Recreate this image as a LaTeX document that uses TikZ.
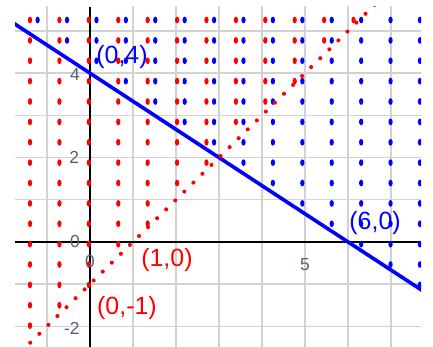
\documentclass[tikz,border=0pt]{standalone}
\usepackage{fontspec}
\setmainfont{Liberation Sans}
\definecolor{axisgray}{RGB}{85,95,115}
\definecolor{gridgray}{RGB}{210,210,210}

\begin{document}
\begin{tikzpicture}[x=1cm, y=0.981cm,
    tick/.style={font=\fontsize{11.5}{12}\selectfont, text=axisgray, inner sep=0pt},
    pointlabel/.style={font=\fontsize{16.5}{17}\selectfont, inner sep=0pt},
    gridline/.style={draw=gridgray, line width=1pt}]
  \useasboundingbox (-2.093,-2.488) rectangle (7.977,5.735);
  \begin{scope}
    \clip (-1.744,-2.488) rectangle (7.698,5.569);

    % grid
    \foreach \gx in {-1,1,2,3,4,5,6,7}
      \draw[gridline] (\gx,-3) -- (\gx,6);
    \foreach \gy in {-2,-1,1,2,3,4,5}
      \draw[gridline] (-2,\gy) -- (8,\gy);

    % axes
    \coordinate (xl) at (-1.744,0);
    \coordinate (xr) at (7.698,0);
    \coordinate (yb) at (0,-2.488);
    \coordinate (yt) at (0,5.569);
    \draw[black, line width=0.9pt] (xl) -- (xr);
    \draw[black, line width=0.9pt] (yb) -- (yt);

    % red shading, y >= x - 1
    \foreach \k in {0,...,11}
      \foreach \j in {0,...,16} {
        \pgfmathsetmacro\xx{-1.395+0.684*\k}
        \pgfmathsetmacro\yy{5.26-0.483*\j}
        \pgfmathtruncatemacro\ok{\yy>=\xx-1}
        \ifnum\ok=1
          \fill[red] (\xx,\yy) ellipse [x radius=0.05, y radius=0.08];
        \fi
      }

    % blue shading, y >= 4 - 2x/3
    \foreach \k in {0,...,13}
      \foreach \j in {0,...,16} {
        \pgfmathsetmacro\xx{-1.218+0.684*\k}
        \pgfmathsetmacro\yy{5.26-0.483*\j}
        \pgfmathtruncatemacro\ok{\yy>=4-2*\xx/3}
        \ifnum\ok=1
          \fill[blue] (\xx,\yy) ellipse [x radius=0.05, y radius=0.08];
        \fi
      }

    % boundary lines
    \coordinate (bA) at (-1.9,5.267);
    \coordinate (bB) at (7.9,-1.267);
    \coordinate (rA) at (-1.6,-2.6);
    \coordinate (rB) at (6.7,5.7);
    \draw[blue, line width=2.4pt] (bA) -- (bB);
    \draw[red, line width=2.7pt, line cap=round, dash pattern=on 0pt off 8.4pt] (rA) -- (rB);
  \end{scope}

  % tick labels
  \node[tick] (t4) at (-0.35,3.96) {4};
  \node[tick] (t2) at (-0.37,2.01) {2};
  \node[tick] (t0y) at (-0.35,0) {0};
  \node[tick] (tm2) at (-0.42,-2.06) {-2};
  \node[tick] (t0x) at (0,-0.47) {0};
  \node[tick] (t5) at (5,-0.545) {5};

  % point labels
  \node[pointlabel, text=blue] (p04) at (0.744,4.38) {(0,4)};
  \node[pointlabel, text=blue] (p60) at (6.63,0.45) {(6,0)};
  \node[pointlabel, text=red] (p10) at (1.79,-0.43) {(1,0)};
  \node[pointlabel, text=red] (p0m1) at (0.86,-1.56) {(0,-1)};
\end{tikzpicture}
\end{document}
